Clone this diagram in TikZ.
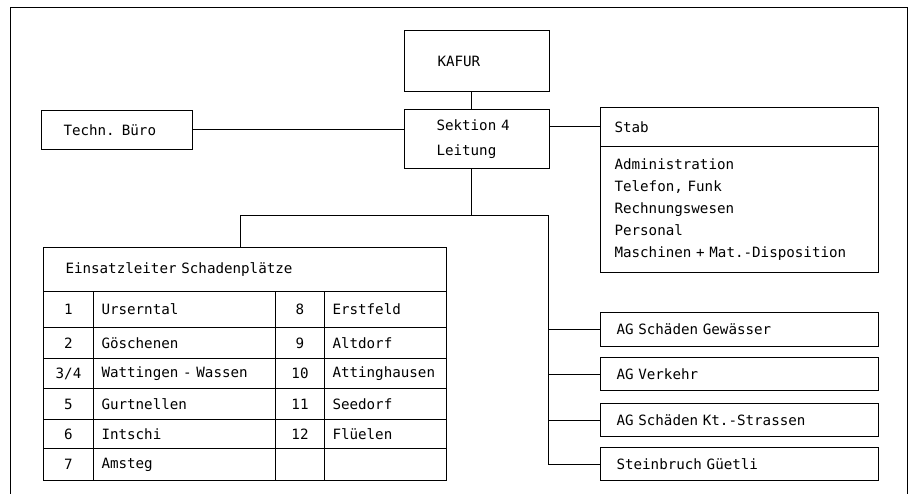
\documentclass[tikz,border=0pt]{standalone}
\usepackage{fontspec}
\setmainfont{DejaVu Sans Mono}
\usepackage{tikz}
\protected\def\chartfont{\fontsize{14.2}{22}\selectfont}
\tikzset{
	box/.style={draw,rectangle,anchor=north west,align=left,inner ysep=0pt},
	cell/.style={draw,rectangle,anchor=north west,inner sep=0pt},
	ortcell/.style={cell,align=left,inner xsep=8pt}
}

\begin{document}
\begin{tikzpicture}[x=1pt,y=-1pt,line width=1pt,font=\chartfont]
	\useasboundingbox (0,0) rectangle (912,494);
	\draw (10,494) |- (907,8) -- (907,494);
	\node[box,text width=79pt,inner xsep=33pt,minimum height=61pt] (kafur) at (404,30) {KAFUR};
	\node[box,text width=81pt,inner xsep=32pt,minimum height=59pt] (sek) at (404,109) {Sektion 4\\[3pt]Leitung};
	\node[box,text width=107pt,inner xsep=22pt,minimum height=39pt] (buero) at (41,110) {Techn. Büro};
	\node[box,text width=250pt,inner xsep=14pt,minimum height=39pt] (stab) at (600,107) {Stab};
	\node[box,text width=250pt,inner xsep=14pt,minimum height=126pt] (stabl) at (600,146) {Administration\\Telefon, Funk\\Rechnungswesen\\Personal\\Maschinen + Mat.-Disposition};
	\node[box,text width=359pt,inner xsep=22pt,minimum height=44pt] (esp) at (43,247) {Einsatzleiter Schadenplätze};
	\foreach \rtop/\rh/\nr/\ort/\mnr/\mort [count=\i] in {291/36pt/1/Urserntal/8/Erstfeld,327/31pt/2/Göschenen/9/Altdorf,358/30pt/{3/4}/Wattingen - Wassen/10/Attinghausen,388/31pt/5/Gurtnellen/11/Seedorf,419/29pt/6/Intschi/12/Flüelen,448/32pt/7/Amsteg/{}/{}}{
		\node[cell,minimum width=50pt,minimum height=\rh] (nr\i) at (43,\rtop) {\nr};
		\node[ortcell,text width=166pt,minimum height=\rh] (ort\i) at (93,\rtop) {\ort};
		\node[cell,minimum width=49pt,minimum height=\rh] (mnr\i) at (275,\rtop) {\mnr};
		\node[ortcell,text width=106pt,minimum height=\rh] (mort\i) at (324,\rtop) {\mort};
	}
	\node[box,text width=246pt,inner xsep=16pt,minimum height=34pt] (gew) at (600,312) {AG Schäden Gewässer};
	\node[box,text width=246pt,inner xsep=16pt,minimum height=33pt] (verk) at (600,357) {AG Verkehr};
	\node[box,text width=246pt,inner xsep=16pt,minimum height=33pt] (kt) at (600,403) {AG Schäden Kt.-Strassen};
	\node[box,text width=246pt,inner xsep=16pt,minimum height=33pt] (stein) at (600,447) {Steinbruch Güetli};
	\coordinate (split) at (471,216);
	\coordinate (drop) at (240,216);
	\coordinate (bus) at (548,216);
	\draw (kafur.south -| split) -- (sek.north -| split);
	\draw (buero.east) -- (buero.east -| sek.west);
	\draw (sek.east |- stab.west) -- (stab.west);
	\draw (sek.south -| split) -- (split);
	\draw (esp.north -| drop) -- (drop) -- (bus) |- (stein.west);
	\foreach \ag in {gew,verk,kt}
		\draw (bus |- \ag.west) -- (\ag.west);
\end{tikzpicture}
\end{document}
